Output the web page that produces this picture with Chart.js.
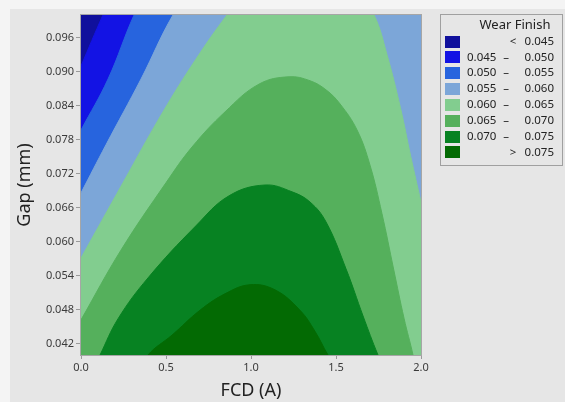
<!DOCTYPE html>
<html>
<head>
<meta charset="utf-8">
<script src="https://cdn.jsdelivr.net/npm/chart.js@4.4.1/dist/chart.umd.min.js"></script>
<style>
  html, body { margin: 0; padding: 0; background: #f4f4f4; }
  canvas { display: block; }
</style>
</head>
<body>
<canvas id="contour" width="565" height="402"></canvas>
<script>
// Wear Finish contour levels and band colours (lowest band first)
const levels = [0.045, 0.050, 0.055, 0.060, 0.065, 0.070, 0.075]
const bandColors = ['#10109c', '#1313e4', '#2764de', '#7ca6d8', '#82cd8f', '#55b05c', '#078222', '#036a03']
const legendTitle = 'Wear Finish'

const xTicks = [0, 0.5, 1.0, 1.5, 2.0]
const yTicks = [0.042, 0.048, 0.054, 0.060, 0.066, 0.072, 0.078, 0.084, 0.090, 0.096]

// contour lines (FCD in A, Gap in mm), values outside the frame are guesses
const fcd045 = [0, 0.129, 0.4, 1.0, 1.6, 2.0]
const gap045 = [0.0910, 0.1000, 0.118, 0.130, 0.130, 0.125]

const fcd050 = [0, 0.159, 0.312, 0.6, 1.2, 2.0]
const gap050 = [0.0797, 0.0887, 0.1000, 0.118, 0.128, 0.124]

const fcd055 = [0, 0.147, 0.353, 0.541, 0.9, 1.4, 2.0]
const gap055 = [0.0686, 0.0771, 0.0887, 0.1000, 0.117, 0.124, 0.119]

const fcd060 = [0, 0.247, 0.482, 0.676, 0.859, 1.1, 1.3, 1.5, 1.724, 1.80, 1.88, 1.94, 2.0]
const gap060 = [0.0571, 0.0704, 0.0829, 0.0922, 0.1000, 0.109, 0.113, 0.112, 0.1000, 0.0930, 0.0835, 0.0750, 0.0670]

const fcd065 = [0, 0.235, 0.5, 0.653, 0.847, 1.047, 1.224, 1.347, 1.441, 1.524, 1.624, 1.70, 1.77, 1.84, 1.90, 1.953, 2.0]
const gap065 = [0.0462, 0.0585, 0.0704, 0.0767, 0.0829, 0.0878, 0.0891, 0.0884, 0.0868, 0.0843, 0.0797, 0.0735, 0.0650, 0.0550, 0.0465, 0.0400, 0.033]

const fcd070 = [0, 0.112, 0.218, 0.394, 0.676, 0.871, 1.082, 1.241, 1.347, 1.441, 1.559, 1.659, 1.747, 2.0]
const gap070 = [0.033, 0.0400, 0.0464, 0.0536, 0.0628, 0.0681, 0.0700, 0.0688, 0.0670, 0.0635, 0.0552, 0.0469, 0.0400, 0.022]

const fcd075 = [0, 0.394, 0.535, 0.700, 0.847, 0.994, 1.141, 1.288, 1.376, 1.453, 1.7, 2.0]
const gap075 = [0.025, 0.0400, 0.0435, 0.0479, 0.0508, 0.0524, 0.0515, 0.0479, 0.0442, 0.0400, 0.028, 0.018]

const contourLines = [
    [fcd045, gap045], [fcd050, gap050], [fcd055, gap055], [fcd060, gap060],
    [fcd065, gap065], [fcd070, gap070], [fcd075, gap075]
]

function toPoints(xs, ys){
    return xs.map((x, i) => ({x: x, y: ys[i]}))
}

// each line fills down to the axis with the band above its level,
// outer lines are painted first so the inner ones sit on top
const datasets = contourLines.map((pair, i) => ({
    data: toPoints(pair[0], pair[1]),
    backgroundColor: bandColors[i + 1],
    borderColor: bandColors[i + 1],
    borderWidth: 1,
    pointRadius: 0,
    fill: 'start',
    tension: 0.4,
    clip: 0,
    order: contourLines.length - i
}))

const backdrop = {
    id: 'backdrop',
    beforeDraw(chart){
        const ctx = chart.ctx
        ctx.save()
        ctx.fillStyle = '#f4f4f4'
        ctx.fillRect(0, 0, chart.width, chart.height)
        ctx.fillStyle = '#e6e6e6'
        ctx.fillRect(10, 9, chart.width - 10, chart.height - 9)
        ctx.restore()
    },
    beforeDatasetsDraw(chart){
        const a = chart.chartArea
        const ctx = chart.ctx
        ctx.save()
        ctx.fillStyle = bandColors[0]
        ctx.fillRect(a.left, a.top, a.right - a.left, a.bottom - a.top)
        ctx.restore()
    },
    afterDatasetsDraw(chart){
        const a = chart.chartArea
        const ctx = chart.ctx
        ctx.save()
        ctx.strokeStyle = '#a6a6a6'
        ctx.lineWidth = 1
        ctx.strokeRect(a.left - 0.5, a.top - 0.5, a.right - a.left + 1, a.bottom - a.top + 1)
        ctx.restore()
    }
}

const legendBox = {
    id: 'legendBox',
    afterDraw(chart){
        const ctx = chart.ctx
        ctx.save()
        ctx.strokeStyle = '#a0a0a0'
        ctx.lineWidth = 1
        ctx.strokeRect(440.5, 14.5, 122, 151)

        ctx.fillStyle = '#222'
        ctx.textBaseline = 'middle'
        ctx.textAlign = 'center'
        ctx.font = '13px "Noto Sans"'
        ctx.fillText(legendTitle, 515, 25)

        ctx.font = '11.5px "Noto Sans"'
        bandColors.forEach((color, i) => {
            const y = 41.5 + i * 15.85
            ctx.fillStyle = color
            ctx.fillRect(445, Math.round(y - 6), 15, 12)
            ctx.fillStyle = '#222'
            if(i == 0){
                ctx.textAlign = 'center'
                ctx.fillText('<', 513, y)
                ctx.textAlign = 'right'
                ctx.fillText(levels[0].toFixed(3), 554, y)
            } else if(i == bandColors.length - 1){
                ctx.textAlign = 'center'
                ctx.fillText('>', 513, y)
                ctx.textAlign = 'right'
                ctx.fillText(levels[levels.length - 1].toFixed(3), 554, y)
            } else {
                ctx.textAlign = 'left'
                ctx.fillText(levels[i - 1].toFixed(3), 467, y)
                ctx.textAlign = 'center'
                ctx.fillText('–', 506, y)
                ctx.textAlign = 'right'
                ctx.fillText(levels[i].toFixed(3), 554, y)
            }
        })
        ctx.restore()
    }
}

const tickFont = {family: 'Noto Sans', size: 11}
const titleFont = {family: 'Noto Sans', size: 18}

new Chart(document.getElementById('contour').getContext('2d'), {
    type: 'line',
    data: {datasets: datasets},
    options: {
        responsive: false,
        devicePixelRatio: 1,
        animation: false,
        layout: {padding: {top: 15, right: 144, left: 0, bottom: 0}},
        plugins: {
            legend: {display: false},
            tooltip: {enabled: false}
        },
        scales: {
            x: {
                type: 'linear',
                min: 0,
                max: 2,
                afterBuildTicks: s => { s.ticks = xTicks.map(v => ({value: v})) },
                afterFit: s => { s.height = 47 },
                grid: {drawOnChartArea: false, tickLength: 4, color: '#9a9a9a'},
                border: {color: '#9a9a9a'},
                ticks: {font: tickFont, color: '#3a3a3a', padding: 2, maxRotation: 0, callback: v => v.toFixed(1)},
                title: {display: true, text: 'FCD (A)', font: titleFont, color: '#222', padding: {top: 0, bottom: 0}}
            },
            y: {
                type: 'linear',
                min: 0.040,
                max: 0.100,
                afterBuildTicks: s => { s.ticks = yTicks.map(v => ({value: v})) },
                afterFit: s => { s.width = 81 },
                grid: {drawOnChartArea: false, tickLength: 5, color: '#9a9a9a'},
                border: {color: '#9a9a9a'},
                ticks: {font: tickFont, color: '#3a3a3a', padding: 2, callback: v => v.toFixed(3)},
                title: {display: true, text: 'Gap (mm)', font: titleFont, color: '#222', padding: {top: 14, bottom: 0}}
            }
        }
    },
    plugins: [backdrop, legendBox]
});
</script>
</body>
</html>
